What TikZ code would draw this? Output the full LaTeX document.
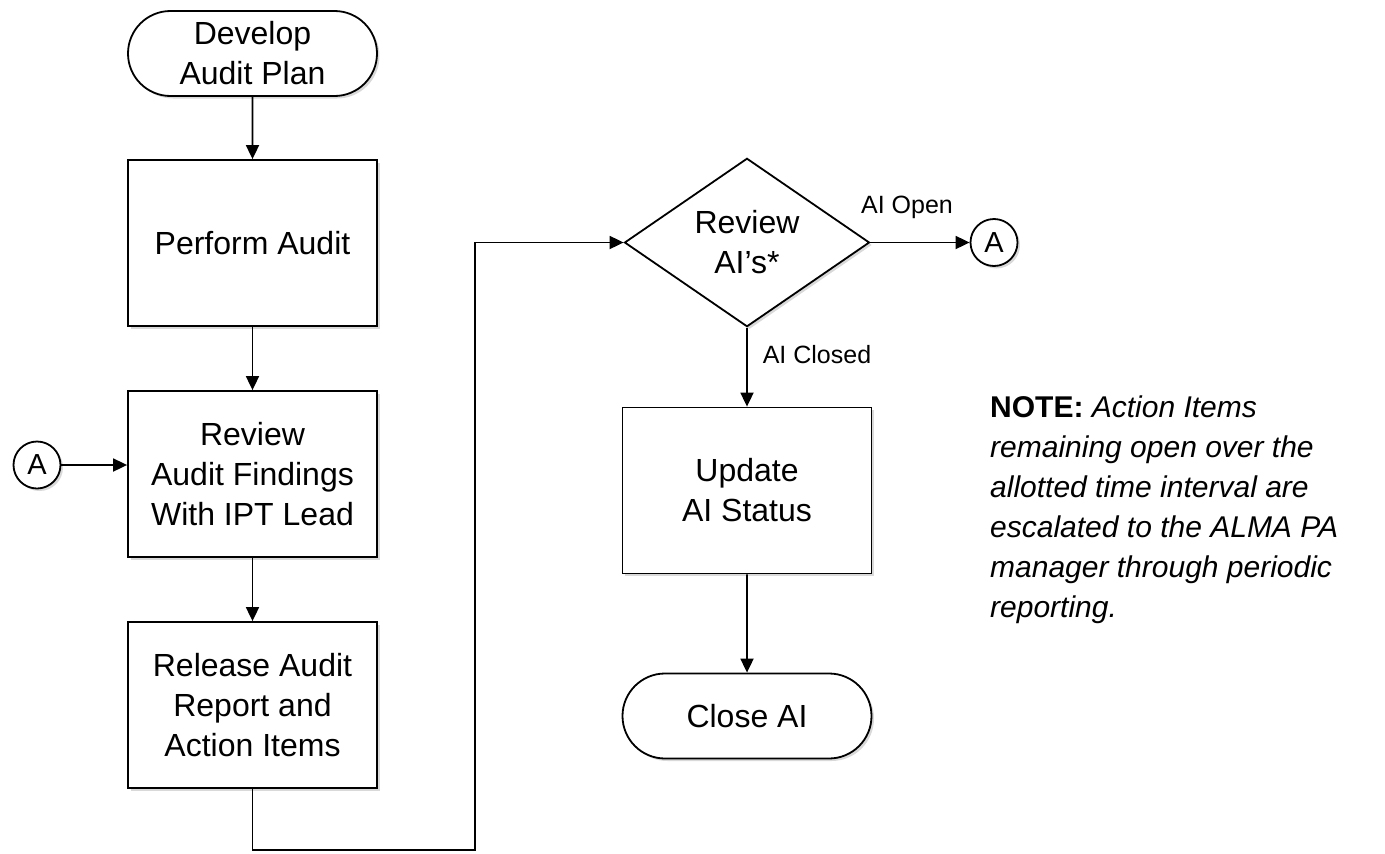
\documentclass[tikz,border=0pt]{standalone}
\usepackage{fontspec}
\setmainfont{Liberation Sans}
\usetikzlibrary{shapes.geometric,shapes.misc,arrows.meta,shadows}
\begin{document}
\begin{tikzpicture}[x=1pt,y=-1pt,
  base/.style={draw, line width=1.8pt, fill=white, align=center,
    font=\fontsize{32}{40}\selectfont,
    drop shadow={shadow xshift=2.5pt, shadow yshift=-2.5pt, opacity=0.3}},
  proc/.style={base, rectangle, minimum width=249pt, minimum height=166pt, inner sep=0pt},
  term/.style={base, rounded rectangle, minimum width=249pt, minimum height=85pt, inner sep=0pt},
  dec/.style={base, diamond, minimum width=245pt, minimum height=165pt, inner sep=0pt},
  conn/.style={base, circle, minimum size=47pt, inner sep=0pt, font=\fontsize{29}{32}\selectfont},
  arr/.style={line width=1.8pt, -{Triangle[length=14pt,width=13pt]}},
  lbl/.style={font=\fontsize{25}{30}\selectfont, inner sep=0pt}]
\useasboundingbox (0,0) rectangle (1385,854);

\node[term] (dev) at (252.5,53.5) {Develop\\Audit Plan};
\node[proc] (perf) at (252.5,243) {Perform Audit};
\node[proc] (rev) at (252.5,474) {Review\\Audit Findings\\With IPT Lead};
\node[proc] (rel) at (252.5,705) {Release Audit\\Report and\\Action Items};
\node[dec] (dia) at (747,242.5) {Review\\AI’s*};
\node[proc] (upd) at (747,490.5) {Update\\AI Status};
\node[term] (close) at (747,716) {Close AI};
\node[conn] (ar) at (994,242.5) {A};
\node[conn] (al) at (37,465) {A};

\coordinate (b1) at (252.5,850);
\coordinate (b2) at (475,850);

\draw[arr] (dev) -- (perf);
\draw[arr] (perf) -- (rev);
\draw[arr] (rev) -- (rel);
\draw[arr] (rel.south) -- (b1) -- (b2) |- (dia.west);
\draw[arr] (dia.east) -- (ar.west);
\draw[arr] (dia.south) -- (upd.north);
\draw[arr] (upd) -- (close);
\draw[arr] (al) -- (al -| rev.west);

\node[lbl] (lopen) at (907,207) {AI Open};
\node[lbl] (lclosed) at (817,355) {AI Closed};

\node[anchor=north west, inner sep=0pt, align=left, font=\fontsize{30}{40}\selectfont] (note) at (990,396)
  {\textbf{NOTE:} \textit{Action Items}\\
   \textit{remaining open over the}\\
   \textit{allotted time interval are}\\
   \textit{escalated to the ALMA PA}\\
   \textit{manager through periodic}\\
   \textit{reporting.}};
\end{tikzpicture}
\end{document}
